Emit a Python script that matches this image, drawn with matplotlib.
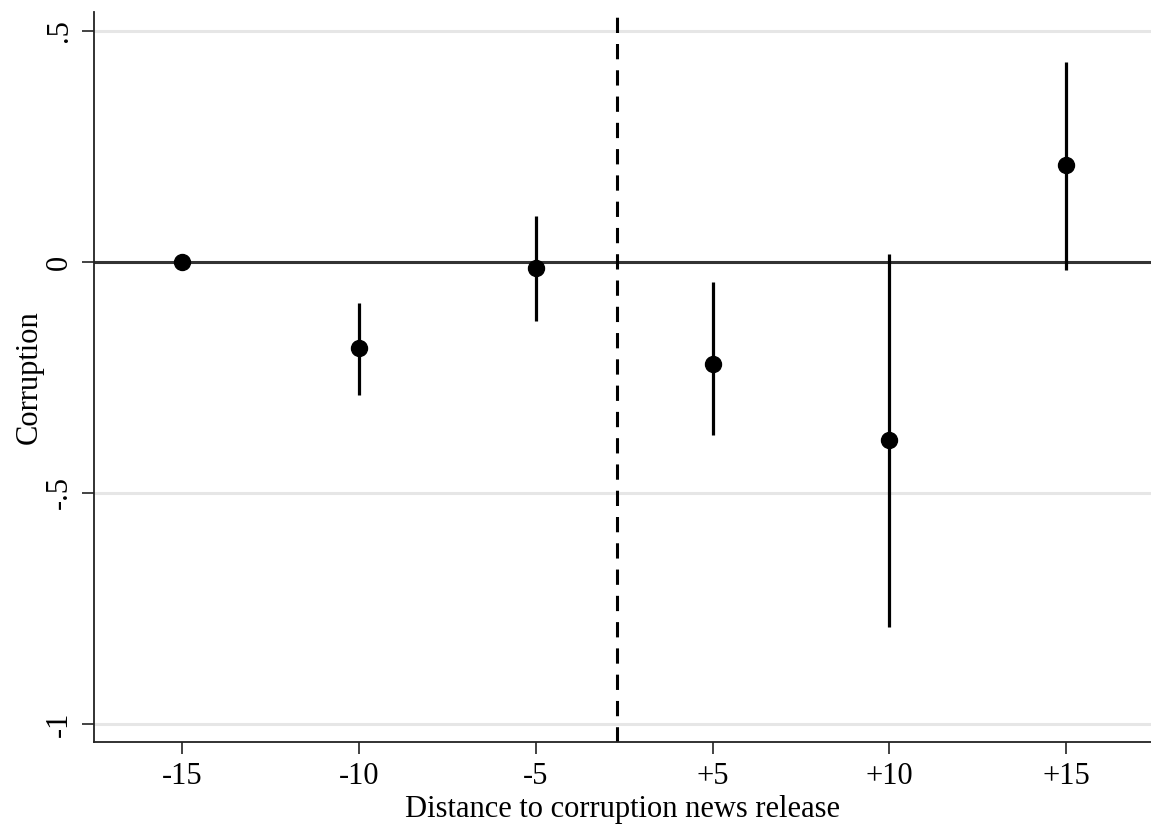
import matplotlib
matplotlib.use("Agg")
import matplotlib.pyplot as plt


# event-study estimates
labels = ["-15", "-10", "-5", "+5", "+10", "+15"]
coef = [0.0, -0.186, -0.013, -0.221, -0.385, 0.210]
ci_low = [0.0, -0.288, -0.128, -0.374, -0.790, -0.017]
ci_high = [0.0, -0.089, 0.100, -0.043, 0.017, 0.433]

y_ticks = [0.5, 0, -0.5, -1]
y_tick_labels = [".5", "0", "-.5", "-1"]

EVENT_POS = 3.46


def main():
    plt.rcParams["font.family"] = ["Liberation Serif", "DejaVu Serif"]

    fig = plt.figure(figsize=(11.51, 8.27), dpi=100)
    ax = fig.add_axes([0.0817, 0.1028, 0.9183, 0.8827])

    x = list(range(1, len(labels) + 1))

    # light horizontal grid at the y ticks, except zero
    for yv in y_ticks:
        if yv != 0:
            ax.axhline(yv, color="#e6e6e6", lw=2.2, zorder=0)

    ax.axhline(0, color="#333333", lw=2.2, zorder=1)
    ax.axvline(EVENT_POS, color="black", lw=2.2, ls=(0, (5, 3.6)), zorder=1)

    ax.vlines(x, ci_low, ci_high, color="black", lw=2.3, zorder=2)
    ax.plot(x, coef, "o", color="black", ms=11.5, zorder=3)

    ax.set_xlim(0.5, 6.48)
    ax.set_ylim(-1.039, 0.541)

    ax.set_xticks(x)
    ax.set_xticklabels(labels, fontsize=22)
    ax.set_yticks(y_ticks)
    ax.set_yticklabels(y_tick_labels, fontsize=22, rotation=90, va="center")

    ax.tick_params(axis="both", length=8.5, width=1.2, color="#222222")
    ax.tick_params(axis="x", pad=6)
    ax.tick_params(axis="y", pad=6)

    ax.set_xlabel("Distance to corruption news release", fontsize=22, labelpad=3)
    ax.set_ylabel("Corruption", fontsize=22, labelpad=1)

    ax.spines["top"].set_visible(False)
    ax.spines["right"].set_visible(False)
    ax.spines["left"].set_linewidth(1.3)
    ax.spines["bottom"].set_linewidth(1.3)
    ax.spines["left"].set_color("#222222")
    ax.spines["bottom"].set_color("#222222")

    fig.savefig("out.png", dpi=100)


if __name__ == "__main__":
    main()
